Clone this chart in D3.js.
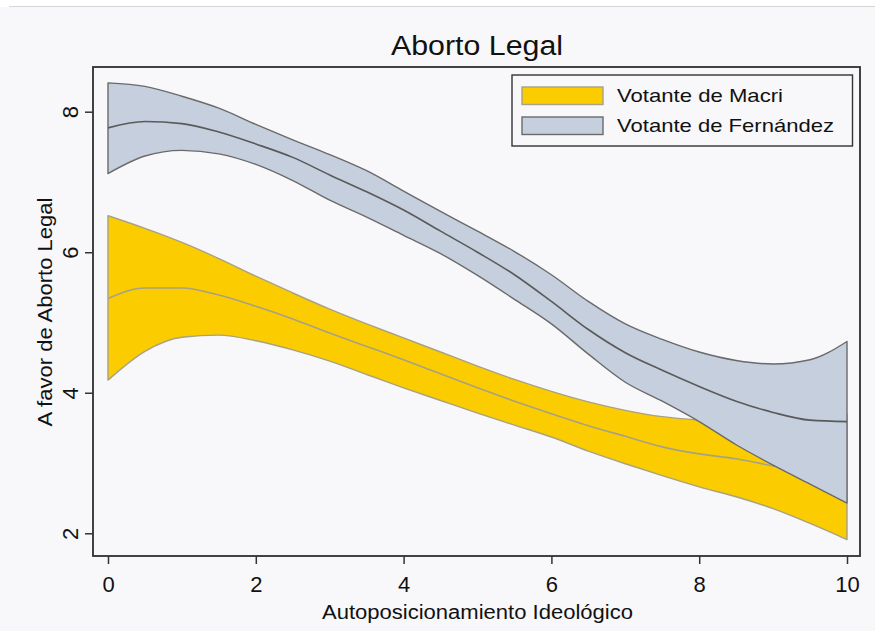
<!DOCTYPE html>
<html>
<head>
<meta charset="utf-8">
<script src="https://cdn.jsdelivr.net/npm/d3@7"></script>
<style>
  html, body { margin: 0; padding: 0; background: #ffffff; }
  svg { display: block; }
  text { font-family: "Liberation Sans", Arial, Helvetica, sans-serif; fill: #111; }
</style>
</head>
<body>
<svg id="chart" width="875" height="631"></svg>
<script>
// ---- data ----
const xValues = [0, 0.5, 1, 1.5, 2, 2.5, 3, 3.5, 4, 4.5, 5, 5.5, 6, 6.5, 7, 7.5, 8, 8.5, 9, 9.5, 10];

const macriUpper = [6.52, 6.34, 6.14, 5.91, 5.66, 5.42, 5.19, 4.98, 4.78, 4.58, 4.38, 4.19, 4.02, 3.87, 3.75, 3.66, 3.61, 3.58, 3.58, 3.62, 3.70];
const macriMid   = [5.34, 5.49, 5.49, 5.39, 5.23, 5.05, 4.85, 4.66, 4.47, 4.27, 4.07, 3.88, 3.70, 3.53, 3.38, 3.23, 3.13, 3.06, 2.96, 2.88, 2.80];
const macriLower = [4.18, 4.59, 4.79, 4.82, 4.74, 4.61, 4.45, 4.26, 4.07, 3.89, 3.71, 3.54, 3.37, 3.17, 2.99, 2.82, 2.66, 2.52, 2.35, 2.14, 1.91];

const fernUpper = [8.41, 8.36, 8.22, 8.05, 7.82, 7.60, 7.39, 7.16, 6.87, 6.58, 6.30, 6.01, 5.68, 5.30, 4.98, 4.76, 4.58, 4.46, 4.41, 4.47, 4.73];
const fernMid   = [7.77, 7.86, 7.83, 7.71, 7.54, 7.35, 7.10, 6.86, 6.60, 6.30, 6.00, 5.68, 5.30, 4.90, 4.57, 4.32, 4.09, 3.88, 3.72, 3.61, 3.59];
const fernLower = [7.12, 7.37, 7.45, 7.40, 7.25, 7.02, 6.74, 6.50, 6.24, 5.98, 5.67, 5.33, 4.98, 4.55, 4.15, 3.88, 3.59, 3.26, 2.97, 2.70, 2.43];

const xTicks = [0, 2, 4, 6, 8, 10];
const yTicks = [2, 4, 6, 8];
const seriesNames = ["Votante de Macri", "Votante de Fernández"];
const titleText = "Aborto Legal";
const xTitle = "Autoposicionamiento Ideológico";
const yTitle = "A favor de Aborto Legal";

// ---- styles ----
const BG = "#f8f7fa";
const YELLOW = "#fbcd00";
const YELLOW_EDGE = "#a8a183";
const GREY = "#c5cfdd";
const GREY_EDGE = "#6a6a6a";

const svg = d3.select("#chart");

// background
svg.append("rect").attr("x", 0).attr("y", 0).attr("width", 875).attr("height", 631).attr("fill", "#ffffff");
svg.append("rect").attr("x", 0).attr("y", 7).attr("width", 875).attr("height", 624).attr("fill", BG);
svg.append("line").attr("x1", 9).attr("x2", 875).attr("y1", 6.5).attr("y2", 6.5)
  .attr("stroke", "#d6d6d6").attr("stroke-width", 1);

const frame = { left: 93, right: 860, top: 67, bottom: 556 };

const x = d3.scaleLinear().domain([0, 10]).range([108, 847]);
const y = d3.scaleLinear().domain([2, 8]).range([533.3, 111.7]);

const curve = d3.curveMonotoneX;

function bandData(lower, upper) {
  return xValues.map((v, i) => ({ x: v, lo: lower[i], hi: upper[i] }));
}
function lineData(vals) {
  return xValues.map((v, i) => ({ x: v, y: vals[i] }));
}

const area = d3.area().curve(curve)
  .x(d => x(d.x)).y0(d => y(d.lo)).y1(d => y(d.hi));
const line = d3.line().curve(curve).x(d => x(d.x)).y(d => y(d.y));

const plot = svg.append("g");

// outline path of a band (closed polygon incl. vertical ends)
function bandOutline(lower, upper) {
  const top = line(lineData(upper));
  const bottom = line(lineData(lower).slice().reverse());
  return top + "L" + bottom.slice(1) + "Z";
}

// Macri band
plot.append("path").attr("d", area(bandData(macriLower, macriUpper)))
  .attr("fill", YELLOW).attr("stroke", "none");
plot.append("path").attr("d", bandOutline(macriLower, macriUpper))
  .attr("fill", "none").attr("stroke", YELLOW_EDGE).attr("stroke-width", 1.4).attr("stroke-linejoin", "round");
plot.append("path").attr("d", line(lineData(macriMid)))
  .attr("fill", "none").attr("stroke", YELLOW_EDGE).attr("stroke-width", 1.6);

// Fernández band
plot.append("path").attr("d", area(bandData(fernLower, fernUpper)))
  .attr("fill", GREY).attr("stroke", "none");
plot.append("path").attr("d", bandOutline(fernLower, fernUpper))
  .attr("fill", "none").attr("stroke", GREY_EDGE).attr("stroke-width", 1.4).attr("stroke-linejoin", "round");
plot.append("path").attr("d", line(lineData(fernMid)))
  .attr("fill", "none").attr("stroke", "#5a5a5a").attr("stroke-width", 1.6);

// frame
svg.append("rect")
  .attr("x", frame.left).attr("y", frame.top)
  .attr("width", frame.right - frame.left).attr("height", frame.bottom - frame.top)
  .attr("fill", "none").attr("stroke", "#2e2e2e").attr("stroke-width", 1.8);

// x axis
const gx = svg.append("g").attr("transform", `translate(0,${frame.bottom})`)
  .call(d3.axisBottom(x).tickValues(xTicks).tickSize(8).tickFormat(d3.format("d")));
gx.select(".domain").remove();
gx.selectAll(".tick line").attr("stroke", "#333").attr("stroke-width", 1.5);
gx.selectAll(".tick text").attr("y", 36).attr("dy", 0)
  .style("font-size", "22px").style("font-family", "Liberation Sans, Arial, sans-serif").attr("fill", "#111");

// y axis
const gy = svg.append("g").attr("transform", `translate(${frame.left},0)`)
  .call(d3.axisLeft(y).tickValues(yTicks).tickSize(8).tickFormat(d3.format("d")));
gy.select(".domain").remove();
gy.selectAll(".tick line").attr("stroke", "#333").attr("stroke-width", 1.5);
gy.selectAll(".tick text")
  .attr("transform", "rotate(-90)")
  .attr("x", 0).attr("y", -15).attr("dy", 0)
  .attr("text-anchor", "middle")
  .style("font-size", "22px").style("font-family", "Liberation Sans, Arial, sans-serif").attr("fill", "#111");

// titles
svg.append("text").attr("x", 477).attr("y", 55).attr("text-anchor", "middle")
  .attr("textLength", 172).attr("lengthAdjust", "spacingAndGlyphs")
  .style("font-size", "27px").text(titleText);

svg.append("text").attr("x", 477.5).attr("y", 619).attr("text-anchor", "middle")
  .attr("textLength", 311).attr("lengthAdjust", "spacingAndGlyphs")
  .style("font-size", "20px").text(xTitle);

svg.append("text").attr("transform", "translate(52,312) rotate(-90)").attr("text-anchor", "middle")
  .attr("textLength", 229).attr("lengthAdjust", "spacingAndGlyphs")
  .style("font-size", "21px").text(yTitle);

// legend
const legend = svg.append("g");
legend.append("rect").attr("x", 512).attr("y", 75).attr("width", 340.5).attr("height", 71)
  .attr("fill", BG).attr("stroke", "#333").attr("stroke-width", 1.4);
const legItems = [
  { name: seriesNames[0], fill: YELLOW, stroke: YELLOW_EDGE, len: 166 },
  { name: seriesNames[1], fill: GREY, stroke: GREY_EDGE, len: 217 }
];
legItems.forEach((d, i) => {
  const yy = 87 + i * 30;
  legend.append("rect").attr("x", 522).attr("y", yy).attr("width", 81).attr("height", 17.5)
    .attr("fill", d.fill).attr("stroke", d.stroke).attr("stroke-width", 1.4);
  legend.append("text").attr("x", 617).attr("y", yy + 15)
    .attr("textLength", d.len).attr("lengthAdjust", "spacingAndGlyphs")
    .style("font-size", "19px").text(d.name);
});
</script>
</body>
</html>
